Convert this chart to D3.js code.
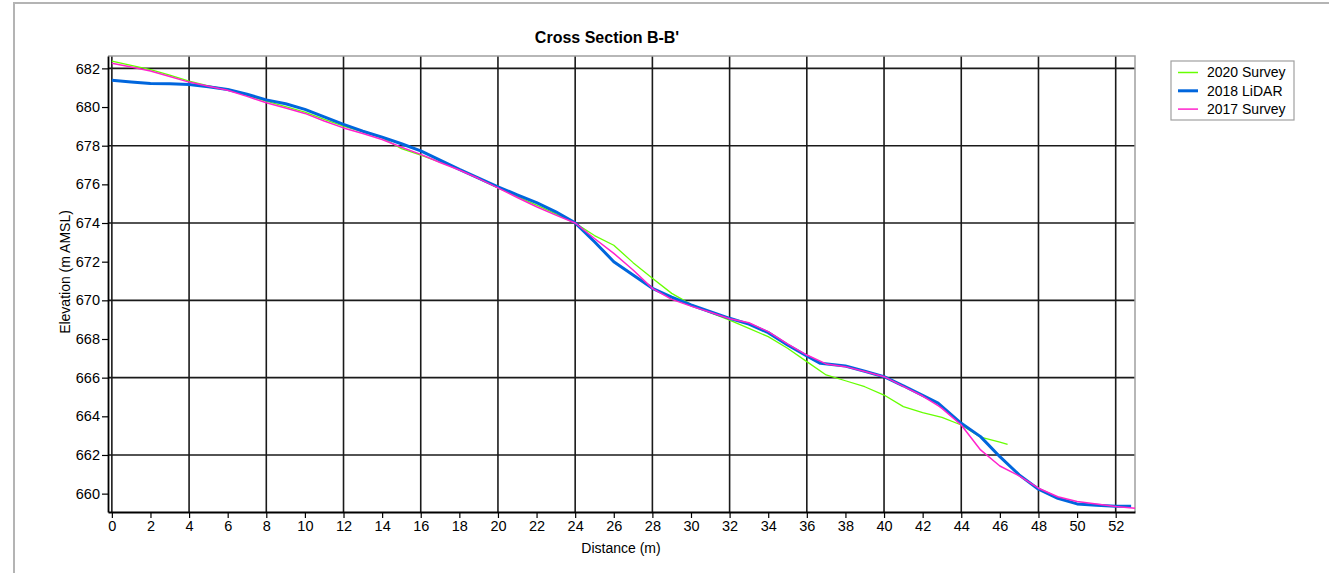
<!DOCTYPE html>
<html lang="en">

<head>
    <meta charset="UTF-8">
    <style>
        body {
            margin: 0;
            background: #fff;
        }
        text {
            font-family: Arial, "Liberation Sans", sans-serif;
        }
    </style>
    <script src="https://cdnjs.cloudflare.com/ajax/libs/d3/7.8.5/d3.min.js"></script>
    <title>Cross Section B-B'</title>
</head>

<body>
    <div id="chart"></div>
    <script>
        // distances (m) and elevations (m AMSL) for each profile
        var surveyDist2020 = [0, 1, 2, 3, 4, 5, 6, 7, 8, 9, 10, 11, 12, 13, 14, 15, 16, 17, 18, 19, 20, 21, 22, 23, 24,
            25, 26, 27, 28, 29, 30, 31, 32, 33, 34, 35, 36, 37, 38, 39, 40, 41, 42, 43, 44, 45, 46, 46.4];
        var surveyElev2020 = [682.37, 682.15, 681.94, 681.65, 681.34, 681.1, 680.91, 680.6, 680.3, 680.02, 679.74, 679.36,
            679.01, 678.72, 678.41, 677.85, 677.51, 677.15, 676.77, 676.3, 675.81, 675.37, 674.93, 674.47, 674.0,
            673.35, 672.85, 671.95, 671.14, 670.36, 669.79, 669.36, 668.98, 668.55, 668.12, 667.52, 666.83, 666.14,
            665.84, 665.53, 665.1, 664.5, 664.19, 663.95, 663.55, 662.92, 662.66, 662.55];

        var lidarDist2018 = [0, 1, 2, 3, 4, 5, 6, 7, 8, 9, 10, 11, 12, 13, 14, 15, 16, 17, 18, 19, 20, 21, 22, 23, 24,
            25, 26, 27, 28, 29, 30, 31, 32, 33, 34, 35, 36, 36.7, 38, 39, 40, 41, 42, 42.8, 44, 45, 46, 47, 48, 49,
            50, 51, 52, 52.8];
        var lidarElev2018 = [681.38, 681.3, 681.22, 681.2, 681.17, 681.05, 680.91, 680.66, 680.37, 680.17, 679.88,
            679.49, 679.1, 678.75, 678.44, 678.1, 677.73, 677.25, 676.77, 676.32, 675.87, 675.46, 675.05, 674.58,
            674.01, 673.03, 672.0, 671.31, 670.62, 670.17, 669.76, 669.41, 669.07, 668.77, 668.33, 667.69, 667.12,
            666.74, 666.6, 666.33, 666.05, 665.58, 665.08, 664.68, 663.64, 662.95, 661.91, 660.97, 660.23, 659.76,
            659.47, 659.4, 659.35, 659.35];

        var surveyDist2017 = [0, 1, 2, 3, 4, 5, 6, 7, 8, 9, 10, 11, 12, 13, 14, 15, 16, 17, 18, 19, 20, 21, 22, 23, 24,
            25, 26, 27, 28, 29, 30, 31, 32, 33, 34, 35, 36, 37, 38, 39, 40, 41, 42, 42.8, 43, 44, 45, 46, 47, 48, 49,
            50, 51, 52, 53];
        var surveyElev2017 = [682.26, 682.07, 681.86, 681.58, 681.29, 681.08, 680.87, 680.55, 680.22, 679.95, 679.67,
            679.28, 678.92, 678.63, 678.32, 677.92, 677.55, 677.13, 676.74, 676.3, 675.82, 675.32, 674.84, 674.41,
            674.0, 673.2, 672.43, 671.57, 670.62, 670.05, 669.7, 669.38, 669.05, 668.84, 668.38, 667.75, 667.17,
            666.71, 666.57, 666.32, 666.05, 665.55, 665.05, 664.55, 664.41, 663.55, 662.26, 661.43, 660.92, 660.28,
            659.84, 659.59, 659.47, 659.33, 659.25];

        var seriesNames = ['2020 Survey', '2018 LiDAR', '2017 Survey'];
        var seriesColours = ['#66ff00', '#0066dd', '#ff22cc'];
        var seriesWidths = [1.3, 3, 1.5];

        var xTicks = d3.range(0, 53, 2);
        var xGrid = d3.range(0, 53, 4);
        var yTicks = d3.range(660, 683, 2);
        var yGrid = [662, 666, 670, 674, 678, 682];

        var width = 1329,
            height = 573,
            plotLeft = 108,
            plotRight = 1135,
            plotTop = 56,
            plotBottom = 512;

        var svg = d3.select('#chart')
            .append('svg')
            .attr('width', width)
            .attr('height', height);

        // outer panel border
        svg.append('path')
            .attr('d', 'M14,' + height + ' L14,3 L' + width + ',3')
            .attr('fill', 'none')
            .attr('stroke', '#b4b4b4')
            .attr('stroke-width', 2);

        var x = d3.scaleLinear().domain([-0.2, 53.0]).range([plotLeft, plotRight]);
        var y = d3.scaleLinear().domain([659.05, 682.64]).range([plotBottom, plotTop]);

        // grid
        svg.append('g')
            .selectAll('line')
            .data(xGrid)
            .enter()
            .append('line')
            .attr('x1', function (d) { return x(d); })
            .attr('x2', function (d) { return x(d); })
            .attr('y1', plotTop)
            .attr('y2', plotBottom)
            .attr('stroke', '#1a1a1a')
            .attr('stroke-width', 1.6);

        svg.append('g')
            .selectAll('line')
            .data(yGrid)
            .enter()
            .append('line')
            .attr('x1', plotLeft)
            .attr('x2', plotRight)
            .attr('y1', function (d) { return y(d); })
            .attr('y2', function (d) { return y(d); })
            .attr('stroke', '#1a1a1a')
            .attr('stroke-width', 1.6);

        // plot frame (top / right are light)
        svg.append('path')
            .attr('d', 'M' + plotLeft + ',' + plotTop + ' L' + plotRight + ',' + plotTop + ' L' + plotRight + ',' + plotBottom)
            .attr('fill', 'none')
            .attr('stroke', '#a0a0a0')
            .attr('stroke-width', 1.5);

        var xAxis = svg.append('g')
            .attr('transform', 'translate(0,' + plotBottom + ')')
            .call(d3.axisBottom(x).tickValues(xTicks).tickSize(6).tickSizeOuter(0).tickPadding(3));

        var yAxis = svg.append('g')
            .attr('transform', 'translate(' + plotLeft + ',0)')
            .call(d3.axisLeft(y).tickValues(yTicks).tickSize(6).tickSizeOuter(0).tickPadding(2));

        [xAxis, yAxis].forEach(function (a) {
            a.selectAll('text')
                .attr('font-size', '14.5px')
                .attr('font-family', 'Arial, "Liberation Sans", sans-serif')
                .attr('fill', '#000');
            a.selectAll('line').attr('stroke', '#000').attr('stroke-width', 1.2);
            a.select('.domain').attr('stroke', '#000').attr('stroke-width', 1.8);
        });

        // lines
        var seriesData = [
            d3.zip(surveyDist2020, surveyElev2020),
            d3.zip(lidarDist2018, lidarElev2018),
            d3.zip(surveyDist2017, surveyElev2017)
        ];

        var line = d3.line()
            .x(function (d) { return x(d[0]); })
            .y(function (d) { return y(d[1]); });

        svg.append('g')
            .selectAll('path')
            .data(seriesData)
            .enter()
            .append('path')
            .attr('d', line)
            .attr('fill', 'none')
            .attr('stroke', function (d, i) { return seriesColours[i]; })
            .attr('stroke-width', function (d, i) { return seriesWidths[i]; })
            .attr('stroke-linejoin', 'round');

        // titles
        svg.append('text')
            .attr('x', 607)
            .attr('y', 43)
            .attr('text-anchor', 'middle')
            .attr('font-size', '16px')
            .attr('font-weight', 'bold')
            .text("Cross Section B-B'");

        svg.append('text')
            .attr('x', 621)
            .attr('y', 553)
            .attr('text-anchor', 'middle')
            .attr('font-size', '14px')
            .text('Distance (m)');

        svg.append('text')
            .attr('transform', 'translate(70,272) rotate(-90)')
            .attr('text-anchor', 'middle')
            .attr('font-size', '14px')
            .text('Elevation (m AMSL)');

        // legend
        var legend = svg.append('g')
            .attr('transform', 'translate(1171,61)');

        legend.append('rect')
            .attr('width', 123)
            .attr('height', 59)
            .attr('fill', '#fff')
            .attr('stroke', '#a0a0a0')
            .attr('stroke-width', 1.2);

        var item = legend.selectAll('.item')
            .data(seriesNames)
            .enter()
            .append('g')
            .attr('class', 'item')
            .attr('transform', function (d, i) { return 'translate(0,' + (11.5 + i * 18.3) + ')'; });

        item.append('line')
            .attr('x1', 7)
            .attr('x2', 27)
            .attr('stroke', function (d, i) { return seriesColours[i]; })
            .attr('stroke-width', function (d, i) { return i === 1 ? 3 : 1.5; });

        item.append('text')
            .attr('x', 36)
            .attr('dy', '0.35em')
            .attr('font-size', '14px')
            .text(function (d) { return d; });
    </script>
</body>

</html>
